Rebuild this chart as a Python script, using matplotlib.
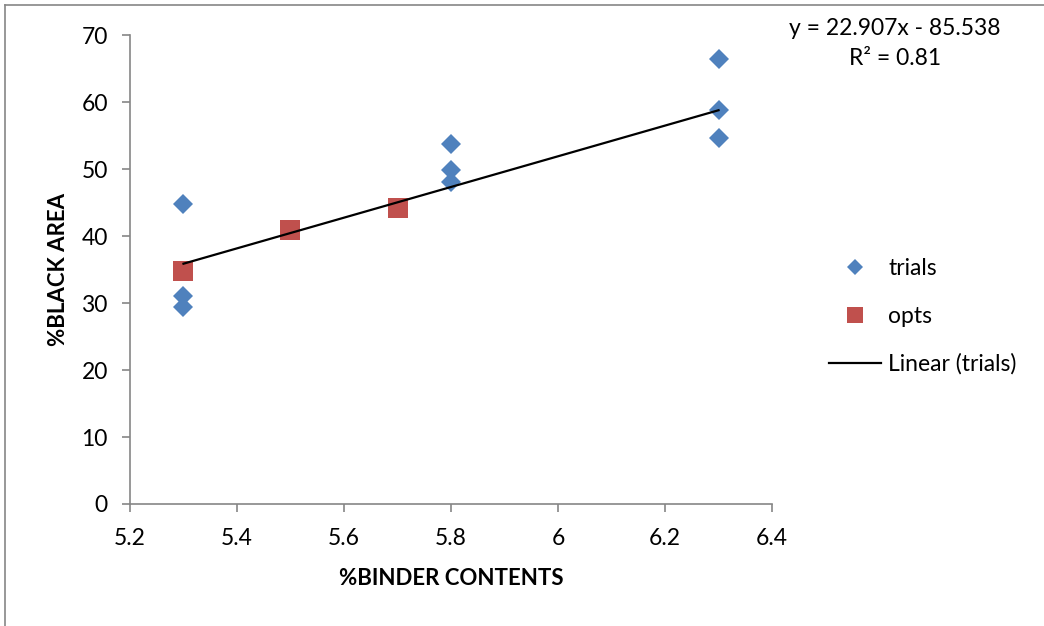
import numpy as np
import matplotlib
matplotlib.use('Agg')
import matplotlib.pyplot as plt
from matplotlib.lines import Line2D

plt.rcParams['font.family'] = ['Lato', 'DejaVu Sans']

# trials
trial_x = [5.3, 5.3, 5.3, 5.8, 5.8, 5.8, 6.3, 6.3, 6.3]
trial_y = [44.8, 31.0, 29.4, 53.7, 49.9, 48.1, 66.4, 58.8, 54.6]

# optimum points
opt_x = [5.3, 5.5, 5.7]
opt_y = [34.8, 40.9, 44.2]

# trendline as printed on the chart
trend_slope = 22.907
trend_icpt = -85.538
trend_r2 = 0.81

x_ticks = [5.2, 5.4, 5.6, 5.8, 6.0, 6.2, 6.4]
x_ticklabels = ['5.2', '5.4', '5.6', '5.8', '6', '6.2', '6.4']
y_ticks = [0, 10, 20, 30, 40, 50, 60, 70]

gray = '#868686'
blue = '#4F81BD'
red = '#C0504D'

fig = plt.figure(figsize=(10.44, 6.26), dpi=100, facecolor='white')
ax = fig.add_axes([0.1245, 0.1949, 0.615, 0.7491])

ax.plot(trial_x, trial_y, 'D', color=blue, markersize=10, markeredgewidth=0,
        label='trials', zorder=3)
ax.plot(opt_x, opt_y, 's', color=red, markersize=15, markeredgewidth=0,
        label='opts', zorder=4)

tx = np.array([min(trial_x), max(trial_x)])
ax.plot(tx, trend_slope * tx + trend_icpt, color='black', linewidth=1.6,
        label='Linear (trials)', zorder=5)

ax.set_xlim(5.2, 6.4)
ax.set_ylim(0, 70)
ax.set_xticks(x_ticks)
ax.set_xticklabels(x_ticklabels)
ax.set_yticks(y_ticks)

for s in ['top', 'right']:
    ax.spines[s].set_visible(False)
for s in ['left', 'bottom']:
    ax.spines[s].set_color(gray)
    ax.spines[s].set_linewidth(1.2)
ax.tick_params(axis='both', direction='out', length=6, width=1.2, color=gray,
               labelsize=16.5)
ax.tick_params(axis='y', pad=10)
ax.tick_params(axis='x', pad=11)

ax.set_xlabel('%BINDER CONTENTS', fontsize=16, fontweight='bold', labelpad=14)
ax.set_ylabel('%BLACK AREA', fontsize=16, fontweight='bold', labelpad=9)

fig.text(0.857, 0.955, 'y = %.3fx - %.3f' % (trend_slope, -trend_icpt),
         ha='center', va='center', fontsize=16.5)
fig.text(0.857, 0.907, 'R² = %.2f' % trend_r2, ha='center', va='center',
         fontsize=16.5)

leg = ax.legend(loc='center left', bbox_to_anchor=(1.057, 0.40), frameon=False,
                fontsize=16.5, handlelength=2.27, labelspacing=1.15,
                handletextpad=0.3, markerscale=0.8)

# outer chart border (partially cropped)
fig.add_artist(Line2D([5 / 1044, 1], [1 - 5 / 626, 1 - 5 / 626], color=gray,
                      linewidth=1.2))
fig.add_artist(Line2D([5 / 1044, 5 / 1044], [0, 1 - 5 / 626], color=gray,
                      linewidth=1.2))

plt.savefig('out.png', dpi=100)
